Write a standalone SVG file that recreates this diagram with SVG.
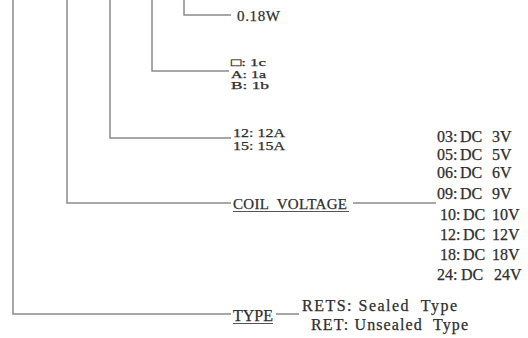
<svg xmlns="http://www.w3.org/2000/svg" width="528" height="338" viewBox="0 0 528 338">
<style>
.ln{fill:none;stroke:#8a8a8a;stroke-width:1.5}
.ul{fill:none;stroke:#555;stroke-width:1.2}
text{font-family:"Liberation Serif","Times New Roman",serif;fill:#2e2e2e;stroke:#2e2e2e;stroke-width:0.25}
.s11{font-size:10.5px}
.s12{font-size:12.5px}
.s15{font-size:15px}
.s16{font-size:16px}
</style>
<rect width="528" height="338" fill="#fff"/>
<g id="connectors">
<path class="ln" d="M13,0 V314 H231"/>
<path class="ln" d="M67,0 V203 H231"/>
<path class="ln" d="M110,0 V138 H231"/>
<path class="ln" d="M152,0 V71 H229"/>
<path class="ln" d="M184,0 V15 H231"/>
<path class="ln" d="M353,203 H436"/>
<path class="ln" d="M276,314 H299"/>
</g>
<g id="power">
<text class="s15" x="237" y="21" textLength="43">0.18W</text>
</g>
<g id="contact">
<text class="s11" x="231" y="66" textLength="35" lengthAdjust="spacingAndGlyphs">□: 1c</text>
<text class="s11" x="231" y="77.5" textLength="35" lengthAdjust="spacingAndGlyphs">A: 1a</text>
<text class="s11" x="231" y="89" textLength="38" lengthAdjust="spacingAndGlyphs">B: 1b</text>
</g>
<g id="current">
<text class="s12" x="233" y="137" textLength="52" lengthAdjust="spacingAndGlyphs">12: 12A</text>
<text class="s12" x="233" y="150" textLength="52" lengthAdjust="spacingAndGlyphs">15: 15A</text>
</g>
<g id="coil-voltage">
<text class="s15" x="233" y="209" textLength="114" xml:space="preserve">COIL  VOLTAGE</text>
<path class="ul" d="M233,211.5 H349"/>
</g>
<g id="voltages" class="s16">
<text y="142"><tspan x="437">03:</tspan><tspan x="460">DC</tspan><tspan x="492">3V</tspan></text>
<text y="160"><tspan x="437">05:</tspan><tspan x="460">DC</tspan><tspan x="492">5V</tspan></text>
<text y="178"><tspan x="437">06:</tspan><tspan x="460">DC</tspan><tspan x="492">6V</tspan></text>
<text y="199"><tspan x="437">09:</tspan><tspan x="460">DC</tspan><tspan x="492">9V</tspan></text>
<text y="220"><tspan x="440">10:</tspan><tspan x="463">DC</tspan><tspan x="492">10V</tspan></text>
<text y="240"><tspan x="440">12:</tspan><tspan x="463">DC</tspan><tspan x="492">12V</tspan></text>
<text y="260"><tspan x="440">18:</tspan><tspan x="463">DC</tspan><tspan x="492">18V</tspan></text>
<text y="280"><tspan x="437">24:</tspan><tspan x="461">DC</tspan><tspan x="494">24V</tspan></text>
</g>
<g id="type">
<text class="s16" x="233" y="321" textLength="40">TYPE</text>
<path class="ul" d="M233,323.5 H273"/>
</g>
<g id="type-options">
<text class="s16" x="302" y="311" textLength="155" xml:space="preserve">RETS: Sealed  Type</text>
<text class="s16" x="311" y="330" textLength="157" xml:space="preserve">RET: Unsealed  Type</text>
</g>
</svg>
